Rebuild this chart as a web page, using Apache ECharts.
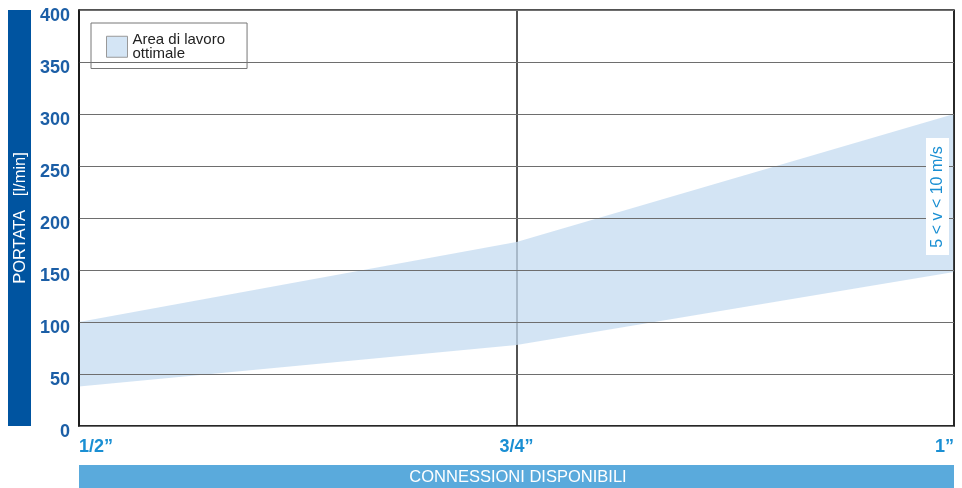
<!DOCTYPE html>
<html>
<head>
<meta charset="utf-8">
<script src="https://cdn.jsdelivr.net/npm/echarts@6/dist/echarts.min.js"></script>
<style>html,body{margin:0;padding:0;background:#fff}#c{width:962px;height:488px}</style>
</head>
<body>
<div id="c"></div>
<script>
const categories = ['1/2\u201D', '3/4\u201D', '1\u201D'];
const lowerValues = [38, 78, 148];
const upperValues = [100, 177, 300];
const yTicks = [0, 50, 100, 150, 200, 250, 300, 350, 400];

const bandValues = upperValues.map((u, i) => u - lowerValues[i]);

const chart = echarts.init(document.getElementById('c'), null, {renderer: 'canvas'});
chart.setOption({
  animation: false,
  backgroundColor: '#fff',
  grid: {left: 79, right: 8, top: 10, bottom: 62, show: true, borderColor: '#1a1a1a', borderWidth: 1.5, z: 3},
  legend: {
    left: 91, top: 23,
    orient: 'vertical',
    padding: [9, 22, 7, 15],
    borderColor: '#777', borderWidth: 1,
    itemWidth: 21, itemHeight: 21, itemGap: 4,
    icon: 'rect',
    data: [{name: 'Area di lavoro\nottimale', itemStyle: {color: '#d4e5f5', borderColor: '#999', borderWidth: 1}}],
    textStyle: {fontFamily: 'Liberation Sans Narrow, Liberation Sans', fontSize: 15, color: '#222', lineHeight: 14.5}
  },
  xAxis: {
    type: 'category', data: categories, boundaryGap: false, z: 0,
    axisLine: {show: true, lineStyle: {color: '#1a1a1a', width: 1.5}},
    axisTick: {show: false},
    splitLine: {show: true, lineStyle: {color: '#1a1a1a', width: 1.5}},
    axisLabel: {color: '#1a8fd3', fontSize: 18, fontWeight: 'bold', fontFamily: 'Liberation Sans', margin: 12, alignMinLabel: 'left', alignMaxLabel: 'right'}
  },
  yAxis: {
    type: 'value', min: 0, max: 400, interval: 50, z: 3,
    axisLine: {show: true, lineStyle: {color: '#1a1a1a', width: 1.5}},
    axisTick: {show: false},
    splitLine: {show: true, lineStyle: {color: '#6e6e6e', width: 1.2}},
    axisLabel: {color: '#1b5ea6', fontSize: 18, fontWeight: 'bold', fontFamily: 'Liberation Sans', margin: 9,
      verticalAlign: 'top', lineHeight: 12,
      formatter: v => yTicks.includes(v) ? String(v) : ''}
  },
  series: [
    {type: 'line', stack: 'a', data: lowerValues, symbol: 'none', lineStyle: {width: 0}, silent: true, z: 1},
    {name: 'Area di lavoro\nottimale', type: 'line', stack: 'a', data: bandValues, symbol: 'none', lineStyle: {width: 0},
      areaStyle: {color: 'rgba(196,219,240,0.75)', opacity: 1}, itemStyle: {color: '#d4e5f5'}, z: 1}
  ],
  graphic: [
    {type: 'rect', shape: {x: 8, y: 10, width: 23, height: 416}, style: {fill: '#0054a0'}},
    {type: 'text', x: 20, y: 218, rotation: Math.PI / 2,
      style: {text: 'PORTATA   [l/min]', fill: '#fff', fontSize: 16.5, fontFamily: 'Liberation Sans', align: 'center', verticalAlign: 'middle'}},
    {type: 'rect', shape: {x: 79, y: 465, width: 875, height: 23}, style: {fill: '#5aaadc'}},
    {type: 'text', x: 518, y: 477,
      style: {text: 'CONNESSIONI DISPONIBILI', fill: '#fff', fontSize: 16.5, fontFamily: 'Liberation Sans', align: 'center', verticalAlign: 'middle'}},
    {type: 'rect', shape: {x: 926, y: 138, width: 23, height: 117}, style: {fill: '#fff'}, z: 10},
    {type: 'text', x: 938, y: 197, rotation: Math.PI / 2, z: 11,
      style: {text: '5 < v < 10 m/s', fill: '#1a8fd3', fontSize: 16, fontFamily: 'Liberation Sans', align: 'center', verticalAlign: 'middle'}}
  ]
});
</script>
</body>
</html>
